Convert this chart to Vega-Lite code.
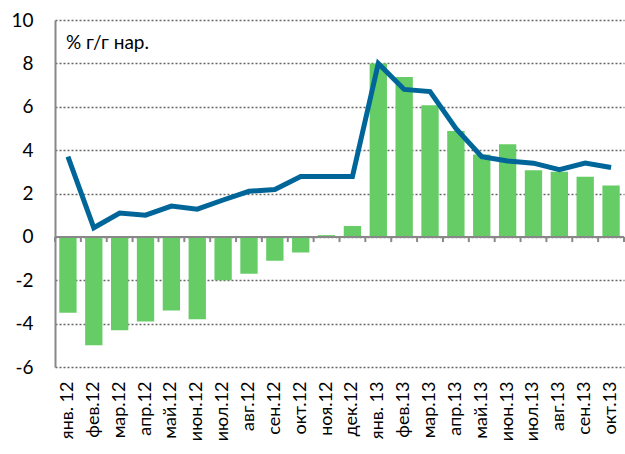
{
  "$schema": "https://vega.github.io/schema/vega-lite/v6.json",
  "autosize": {"type": "none"},
  "padding": {"left": 55, "top": 20, "right": 1, "bottom": 87},
  "width": 569,
  "height": 347,
  "background": "white",
  "config": {"view": {"stroke": null}, "font": "Lato"},
  "data": {"values": [
    {"m": "янв. 12", "bar": -3.5, "line": 3.7},
    {"m": "фев.12", "bar": -5.0, "line": 0.42},
    {"m": "мар.12", "bar": -4.3, "line": 1.1},
    {"m": "апр.12", "bar": -3.9, "line": 1.0},
    {"m": "май.12", "bar": -3.4, "line": 1.42},
    {"m": "июн.12", "bar": -3.8, "line": 1.28},
    {"m": "июл.12", "bar": -2.0, "line": 1.7},
    {"m": "авг.12", "bar": -1.7, "line": 2.1},
    {"m": "сен.12", "bar": -1.1, "line": 2.18},
    {"m": "окт.12", "bar": -0.72, "line": 2.78},
    {"m": "ноя.12", "bar": 0.08, "line": 2.78},
    {"m": "дек.12", "bar": 0.5, "line": 2.78},
    {"m": "янв. 13", "bar": 8.0, "line": 8.0},
    {"m": "фев.13", "bar": 7.37, "line": 6.8},
    {"m": "мар.13", "bar": 6.07, "line": 6.7},
    {"m": "апр.13", "bar": 4.88, "line": 5.0},
    {"m": "май.13", "bar": 3.8, "line": 3.7},
    {"m": "июн.13", "bar": 4.27, "line": 3.5},
    {"m": "июл.13", "bar": 3.07, "line": 3.4},
    {"m": "авг.13", "bar": 3.0, "line": 3.1},
    {"m": "сен.13", "bar": 2.77, "line": 3.4},
    {"m": "окт.13", "bar": 2.37, "line": 3.2}
  ]},
  "layer": [
    {
      "mark": {"type": "bar", "color": "#66cc66", "width": {"band": 0.67}},
      "encoding": {
        "x": {"field": "m", "type": "nominal", "sort": null, "scale": {"paddingInner": 0, "paddingOuter": 0},
          "axis": {"title": null, "domain": false, "ticks": false,
            "labelAngle": -90, "labelAlign": "right", "labelBaseline": "middle",
            "labelPadding": 14, "labelFontSize": 18, "labelColor": "#000000", "labelFont": "Lato"}},
        "y": {
          "field": "bar", "type": "quantitative",
          "scale": {"domain": [-6, 10], "nice": false},
          "axis": {
            "title": null, "values": [-6, -4, -2, 0, 2, 4, 6, 8, 10],
            "labelExpr": "replace(datum.label, '−', '-')",
            "domain": true, "domainColor": "#888888", "domainWidth": 2, "ticks": false,
            "labelPadding": 22, "labelFontSize": 19, "labelColor": "#000000", "labelFont": "Lato",
            "grid": true, "gridColor": "#666666", "gridDash": [2, 2], "gridWidth": 1.5
          }
        }
      }
    },
    {
      "mark": {"type": "rule", "color": "#888888", "strokeWidth": 2},
      "encoding": {
        "x": {"field": "m", "type": "nominal", "sort": null, "bandPosition": 0},
        "y": {"datum": 0},
        "y2": {"datum": -0.24}
      }
    },
    {
      "transform": [{"filter": "datum.m === 'окт.13'"}],
      "mark": {"type": "rule", "color": "#888888", "strokeWidth": 2},
      "encoding": {
        "x": {"field": "m", "type": "nominal", "sort": null, "bandPosition": 1},
        "y": {"datum": 0},
        "y2": {"datum": -0.24}
      }
    },
    {
      "mark": {"type": "rule", "color": "#888888", "strokeWidth": 2},
      "encoding": {"y": {"datum": 0}}
    },
    {
      "mark": {"type": "line", "color": "#00669a", "strokeWidth": 5},
      "encoding": {
        "x": {"field": "m", "type": "nominal", "sort": null},
        "y": {"field": "line", "type": "quantitative"}
      }
    },
    {
      "transform": [{"filter": "datum.m === 'янв. 12'"}],
      "mark": {"type": "text", "align": "left", "baseline": "middle", "fontSize": 19, "font": "Lato", "color": "#000000", "dx": -2, "text": "% г/г нар."},
      "encoding": {
        "x": {"field": "m", "type": "nominal", "sort": null},
        "y": {"datum": 8.95}
      }
    }
  ]
}
